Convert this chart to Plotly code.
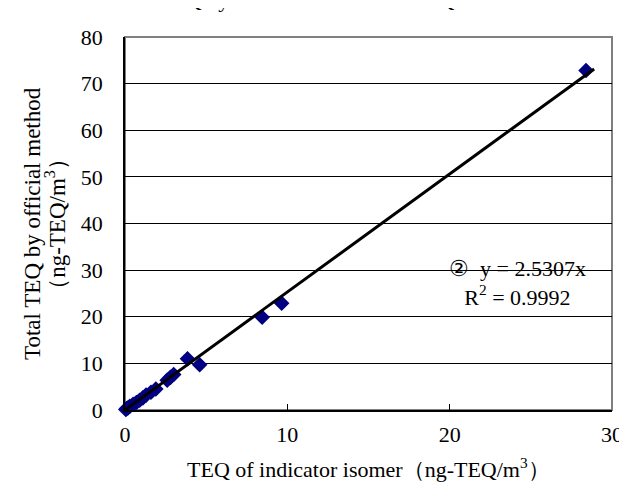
import plotly.graph_objects as go

# Data
x_indicator = [0.05, 0.1, 0.2, 0.3, 0.5, 0.7, 0.9, 1.1, 1.3, 1.6, 1.9, 2.6, 2.8, 3.0, 3.85, 4.6, 8.45, 9.65, 28.4]
y_official = [0.1, 0.3, 0.5, 0.8, 1.2, 1.6, 2.1, 2.6, 3.2, 3.8, 4.5, 6.4, 7.0, 7.6, 11.0, 9.7, 19.9, 22.9, 72.8]
slope = 2.5307
r2 = 0.9992
fit_x = [0, 28.9]
fit_y = [slope * v for v in fit_x]
x_ticks = [0, 10, 20, 30]
y_ticks = [0, 10, 20, 30, 40, 50, 60, 70, 80]

FONT = "Liberation Serif"

fig = go.Figure()
fig.add_trace(go.Scatter(x=x_indicator, y=y_official, mode="markers",
                         marker=dict(symbol="diamond", size=12, color="#000080",
                                     line=dict(width=0)),
                         showlegend=False, cliponaxis=False))
fig.add_trace(go.Scatter(x=fit_x, y=fit_y, mode="lines",
                         line=dict(color="black", width=3),
                         showlegend=False, cliponaxis=False))

# white box behind the equation
fig.add_shape(type="rect", xref="x", yref="y", x0=19.3, x1=29.2, y0=19.2, y1=31,
              fillcolor="white", line=dict(width=0), layer="below")
# plot border (gray)
fig.add_shape(type="rect", xref="paper", yref="paper", x0=0, x1=1, y0=0, y1=1,
              line=dict(color="#808080", width=2), layer="below")

fig.add_annotation(x=24.2, y=27.3, xref="x", yref="y",
                   text="\u2461  y = 2.5307x<br>R<sup>2</sup> = 0.9992",
                   showarrow=False, font=dict(family=FONT, size=22, color="black"),
                   align="center")

# cut-off title at the top
fig.add_annotation(x=0.5, y=1.101, xref="paper", yref="paper",
                   text="Total TEQ by official method and TEQ of indicator isomer",
                   showarrow=False, xanchor="center", yanchor="middle",
                   font=dict(family=FONT, size=22, color="black"))

# axis titles
fig.add_annotation(x=-0.19, y=0.5, xref="paper", yref="paper", textangle=-90,
                   text="Total TEQ by official method", showarrow=False,
                   xanchor="center", yanchor="middle",
                   font=dict(family=FONT, size=23, color="black"))
fig.add_annotation(x=-0.143, y=0.5, xref="paper", yref="paper", textangle=-90,
                   text="\uff08ng-TEQ/m<sup>3</sup>\uff09", showarrow=False,
                   xanchor="center", yanchor="middle",
                   font=dict(family=FONT, size=23, color="black"))
fig.add_annotation(x=0.5, y=-0.155, xref="paper", yref="paper",
                   text="TEQ of indicator isomer\uff08ng-TEQ/m<sup>3</sup>\uff09",
                   showarrow=False, xanchor="center", yanchor="middle",
                   font=dict(family=FONT, size=22, color="black"))

fig.update_layout(
    width=627, height=487,
    margin=dict(l=117, r=14, t=29, b=85),
    paper_bgcolor="white", plot_bgcolor="white",
    font=dict(family=FONT, size=22, color="black"),
    xaxis=dict(range=[0, 30], tickvals=x_ticks, showgrid=False, zeroline=False,
               showline=True, linecolor="black", linewidth=1.5,
               ticks="inside", ticklen=6, tickcolor="black",
               ticklabelstandoff=4,
               tickfont=dict(family=FONT, size=22)),
    yaxis=dict(range=[0, 80], tickvals=y_ticks, showgrid=True, gridcolor="black",
               gridwidth=1, zeroline=False,
               showline=True, linecolor="black", linewidth=1.5,
               ticks="", ticklabelstandoff=16,
               tickfont=dict(family=FONT, size=22)),
)

fig.write_html("out.html")
